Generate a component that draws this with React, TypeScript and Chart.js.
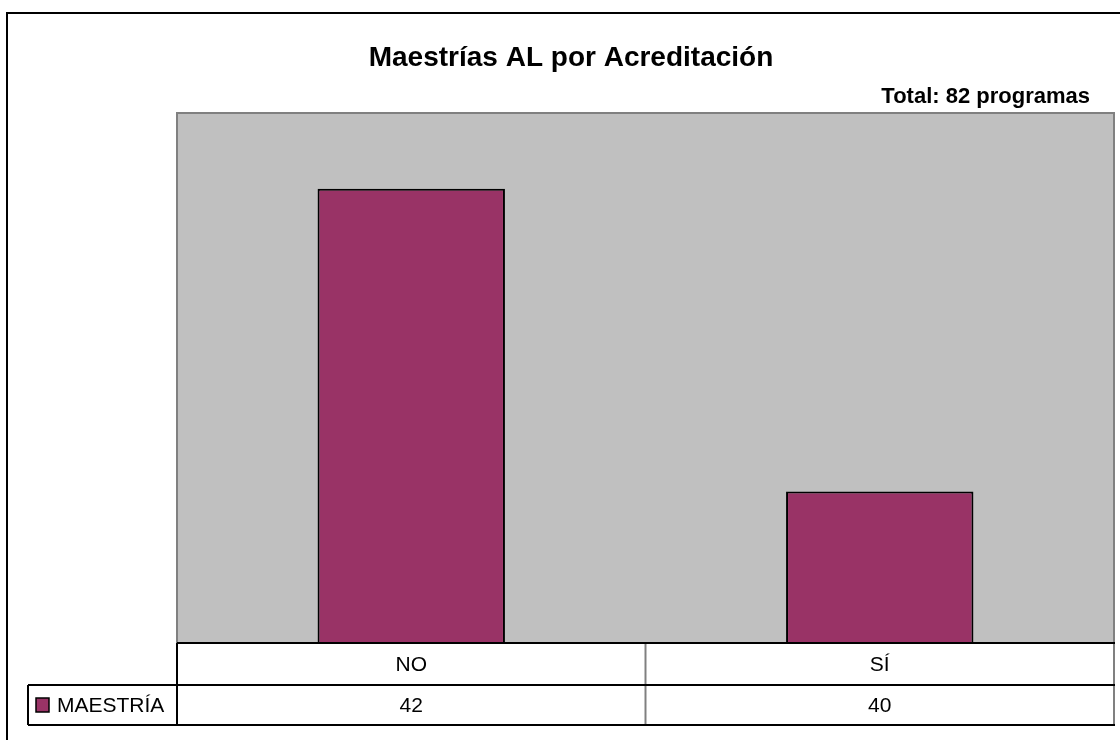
import React, { useEffect, useRef } from "react";
import { Chart, registerables } from "chart.js";

Chart.register(...registerables);

const categories = ["NO", "SÍ"];
const seriesName = "MAESTRÍA";
const values = [42, 40];
const titleText = "Maestrías AL por Acreditación";
const subtitleText = "Total: 82 programas";
const yMin = 39;
const yMax = 42.5;

const FONT = '"Liberation Sans", Arial, Helvetica, sans-serif';
const BAR = "#993366";

export default function App() {
  const ref = useRef<HTMLCanvasElement>(null);

  useEffect(() => {
    const canvas = ref.current;
    if (!canvas) return;

    const framePlugin = {
      id: "frame",
      beforeDraw(chart: any) {
        const { ctx, chartArea: a } = chart;
        ctx.save();
        ctx.fillStyle = "#ffffff";
        ctx.fillRect(0, 0, chart.width, chart.height);
        // outer chart border
        ctx.strokeStyle = "#000000";
        ctx.lineWidth = 2;
        ctx.strokeRect(7, 13, 1300, 900);
        // plot area
        ctx.fillStyle = "#c0c0c0";
        ctx.fillRect(a.left, a.top, a.right - a.left, a.bottom - a.top);
        ctx.strokeStyle = "#808080";
        ctx.lineWidth = 2;
        ctx.strokeRect(a.left, a.top, a.right - a.left, a.bottom - a.top);
        // titles
        ctx.fillStyle = "#000000";
        ctx.textBaseline = "alphabetic";
        ctx.font = `bold 28px ${FONT}`;
        ctx.textAlign = "center";
        ctx.fillText(titleText, 571, 66);
        ctx.font = `bold 22px ${FONT}`;
        ctx.textAlign = "right";
        ctx.fillText(subtitleText, 1090, 103);
        ctx.restore();
      },
      afterDraw(chart: any) {
        const { ctx, chartArea: a } = chart;
        const xs = chart.scales.x;
        const r1Top = a.bottom;
        const r1Bot = a.bottom + 42;
        const r2Bot = r1Bot + 40;
        const legendLeft = 28;
        ctx.save();
        // vertical separators between categories (gray)
        ctx.strokeStyle = "#808080";
        ctx.lineWidth = 2;
        for (let i = 1; i < categories.length; i++) {
          const xb = (xs.getPixelForValue(i - 1) + xs.getPixelForValue(i)) / 2;
          ctx.beginPath();
          ctx.moveTo(xb, r1Top);
          ctx.lineTo(xb, r2Bot);
          ctx.stroke();
        }
        ctx.beginPath();
        ctx.moveTo(a.right, r1Top);
        ctx.lineTo(a.right, r2Bot);
        ctx.stroke();
        // black lines
        ctx.strokeStyle = "#000000";
        ctx.lineWidth = 2;
        ctx.beginPath();
        ctx.moveTo(a.left, r1Top);
        ctx.lineTo(a.right + 1, r1Top);
        ctx.moveTo(legendLeft, r1Bot);
        ctx.lineTo(a.right + 1, r1Bot);
        ctx.moveTo(legendLeft, r2Bot);
        ctx.lineTo(a.right + 1, r2Bot);
        ctx.moveTo(a.left, r1Top);
        ctx.lineTo(a.left, r2Bot);
        ctx.moveTo(legendLeft, r1Bot);
        ctx.lineTo(legendLeft, r2Bot);
        ctx.stroke();
        // texts
        ctx.fillStyle = "#000000";
        ctx.font = `21px ${FONT}`;
        ctx.textAlign = "center";
        ctx.textBaseline = "middle";
        categories.forEach((c, i) => {
          const x = xs.getPixelForValue(i);
          ctx.fillText(c, x, (r1Top + r1Bot) / 2 + 1);
          ctx.fillText(String(values[i]), x, (r1Bot + r2Bot) / 2 + 1);
        });
        // legend key
        const ky = (r1Bot + r2Bot) / 2;
        ctx.fillStyle = BAR;
        ctx.fillRect(36, ky - 7, 13, 14);
        ctx.strokeStyle = "#000000";
        ctx.lineWidth = 1.5;
        ctx.strokeRect(36, ky - 7, 13, 14);
        ctx.fillStyle = "#000000";
        ctx.textAlign = "left";
        ctx.fillText(seriesName, 57, ky + 1);
        ctx.restore();
      },
    };

    const chart = new Chart(canvas, {
      type: "bar",
      data: {
        labels: categories,
        datasets: [
          {
            label: seriesName,
            data: values,
            backgroundColor: BAR,
            borderColor: "#000000",
            borderWidth: 2,
            categoryPercentage: 1,
            barPercentage: 0.4,
          },
        ],
      },
      options: {
        animation: false,
        responsive: false,
        maintainAspectRatio: false,
        devicePixelRatio: 1,
        layout: { padding: { left: 177, top: 113, right: 6, bottom: 97 } },
        plugins: {
          legend: { display: false },
          title: { display: false },
          tooltip: { enabled: false },
        },
        scales: {
          x: { display: false, offset: true, grid: { display: false } },
          y: { display: false, min: yMin, max: yMax, grid: { display: false } },
        },
      },
      plugins: [framePlugin],
    });

    return () => chart.destroy();
  }, []);

  return (
    <div style={{ position: "fixed", left: 0, top: 0, width: 1120, height: 740, background: "#fff" }}>
      <canvas ref={ref} width={1120} height={740} style={{ width: 1120, height: 740, display: "block" }} />
    </div>
  );
}
